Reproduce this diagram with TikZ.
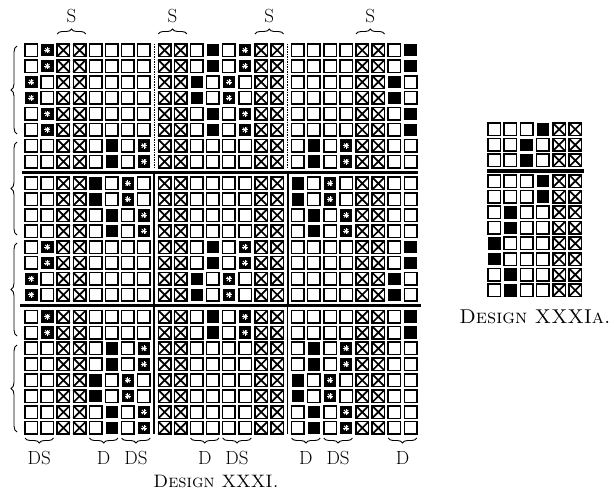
\documentclass[tikz,border=0pt]{standalone}
\usepackage{fontspec}
\usetikzlibrary{decorations.pathreplacing}

\tikzset{
  sq/.style={line width=1.5pt},
  xline/.style={line width=1.7pt},
  starline/.style={white, line width=0.9pt},
  rule/.style={line width=3.6pt},
  sepdot/.style={line width=1pt, dash pattern=on 1.5pt off 1pt},
  sepline/.style={line width=2.2pt},
  upbrace/.style={decorate, decoration={brace, amplitude=5pt}, line width=0.9pt},
  sidebrace/.style={decorate, decoration={brace, amplitude=6pt}, line width=0.9pt},
  lab/.style={font=\fontsize{19}{19}\selectfont, inner sep=0pt},
  caption/.style={font=\fontsize{18}{18}\selectfont, inner sep=0pt}
}

% one cell of the draft, top left corner given
\newcommand{\cellE}[1]{\draw[sq] (#1) rectangle +(12.5,12.5);}
\newcommand{\cellX}[1]{\draw[sq] (#1) rectangle +(12.5,12.5);
  \draw[xline] (#1) -- +(12.5,12.5) (#1) ++(0,12.5) -- +(12.5,-12.5);}
\newcommand{\cellB}[1]{\fill (#1) rectangle +(12.5,12.5);}
\newcommand{\cellS}[1]{\fill (#1) rectangle +(12.5,12.5);
  \foreach \a in {0,45,90,135} {\draw[starline] (#1) ++(6.25,6.25) +(\a:3) -- +(\a+180:3);}}

\begin{document}
\begin{tikzpicture}[x=1pt, y=-1pt]
  \useasboundingbox (0,0) rectangle (616,495);

  % main draft, each entry gives two equal rows
  \foreach \cells [count=\rr] in {
      {E,S,X,X,E,E,E,E,X,X,E,B,E,S,X,X,E,E,E,E,X,X,E,B},
      {S,E,X,X,E,E,E,E,X,X,B,E,S,E,X,X,E,E,E,E,X,X,B,E},
      {E,S,X,X,E,E,E,E,X,X,E,B,E,S,X,X,E,E,E,E,X,X,E,B},
      {E,E,X,X,E,B,E,S,X,X,E,E,E,E,X,X,E,B,E,S,X,X,E,E},
      {E,E,X,X,B,E,S,E,X,X,E,E,E,E,X,X,B,E,S,E,X,X,E,E},
      {E,E,X,X,E,B,E,S,X,X,E,E,E,E,X,X,E,B,E,S,X,X,E,E},
      {E,S,X,X,E,E,E,E,X,X,E,B,E,S,X,X,E,E,E,E,X,X,E,B},
      {S,E,X,X,E,E,E,E,X,X,B,E,S,E,X,X,E,E,E,E,X,X,B,E},
      {E,S,X,X,E,E,E,E,X,X,E,B,E,S,X,X,E,E,E,E,X,X,E,B},
      {E,E,X,X,E,B,E,S,X,X,E,E,E,E,X,X,E,B,E,S,X,X,E,E},
      {E,E,X,X,B,E,S,E,X,X,E,E,E,E,X,X,B,E,S,E,X,X,E,E},
      {E,E,X,X,E,B,E,S,X,X,E,E,E,E,X,X,E,B,E,S,X,X,E,E}} {
    \foreach \c [count=\kk] in \cells {
      \pgfmathsetmacro\xx{25+(\kk-1)*16.1+4.5*floor((\kk-1)/8)}
      \foreach \h in {1,2} {
        \pgfmathsetmacro\yy{44+(2*\rr-3+\h)*15.9+6*floor((2*\rr-3+\h)/8)}
        \csname cell\c\endcsname{\xx,\yy}
      }
    }
  }

  % heavy rules between the blocks
  \draw[rule] (22,172.3) -- (418,172.3);
  \draw[rule] (20,305.6) -- (421,305.6);

  % upright dividers
  \draw[sepdot] (154.3,44) -- (154.3,167);
  \draw[sepdot] (287.6,44) -- (287.6,167);
  \draw[sepline] (154.3,172) -- (154.3,305);
  \draw[sepline] (287.6,172) -- (287.6,305);
  \draw[line width=1.7pt] (154.3,306) -- (154.3,434);
  \draw[line width=1.7pt] (287.6,306) -- (287.6,434);

  % braces at the side
  \foreach \top/\bot in {46/134, 142/235, 243/336, 345/432}
    \draw[sidebrace] (17,\bot) -- (17,\top);

  % S over the crossed pairs
  \foreach \a [count=\i] in {3,9,15,21} {
    \pgfmathsetmacro\xl{25+(\a-1)*16.1+4.5*floor((\a-1)/8)}
    \pgfmathsetmacro\xr{\xl+16.1+12.5}
    \draw[upbrace] (\xl,34) -- (\xr,34);
    \node[lab] (s\i) at ({(\xl+\xr)/2},16) {S};
  }

  % D and DS under the pairs
  \foreach \a/\t [count=\i] in {1/DS, 5/D, 7/DS, 11/D, 13/DS, 17/D, 19/DS, 23/D} {
    \pgfmathsetmacro\xl{25+(\a-1)*16.1+4.5*floor((\a-1)/8)}
    \pgfmathsetmacro\xr{\xl+16.1+12.5}
    \draw[upbrace] (\xr,438) -- (\xl,438);
    \node[lab] (d\i) at ({(\xl+\xr)/2},458) {\t};
  }
  \node[caption] (cap) at (216,481) {\textsc{Design XXXI.}};

  % small draft
  \foreach \cells [count=\rr] in {
      {E,E,E,B,X,X}, {E,E,B,E,X,X}, {E,E,B,E,X,X},
      {E,E,E,B,X,X}, {E,E,E,B,X,X}, {E,B,E,E,X,X}, {E,B,E,E,X,X},
      {B,E,E,E,X,X}, {B,E,E,E,X,X}, {E,B,E,E,X,X}, {E,B,E,E,X,X}} {
    \foreach \c [count=\kk] in \cells {
      \pgfmathsetmacro\xx{488+(\kk-1)*16.2}
      \pgfmathsetmacro\yy{123+(\rr-1)*15.6+5*(\rr>3)}
      \csname cell\c\endcsname{\xx,\yy}
    }
  }
  \draw[rule] (487,170.8) -- (584,170.8);
  \node[caption, font=\fontsize{20}{20}\selectfont] (capa) at (535,317) {\textsc{Design XXXIa.}};
\end{tikzpicture}
\end{document}
